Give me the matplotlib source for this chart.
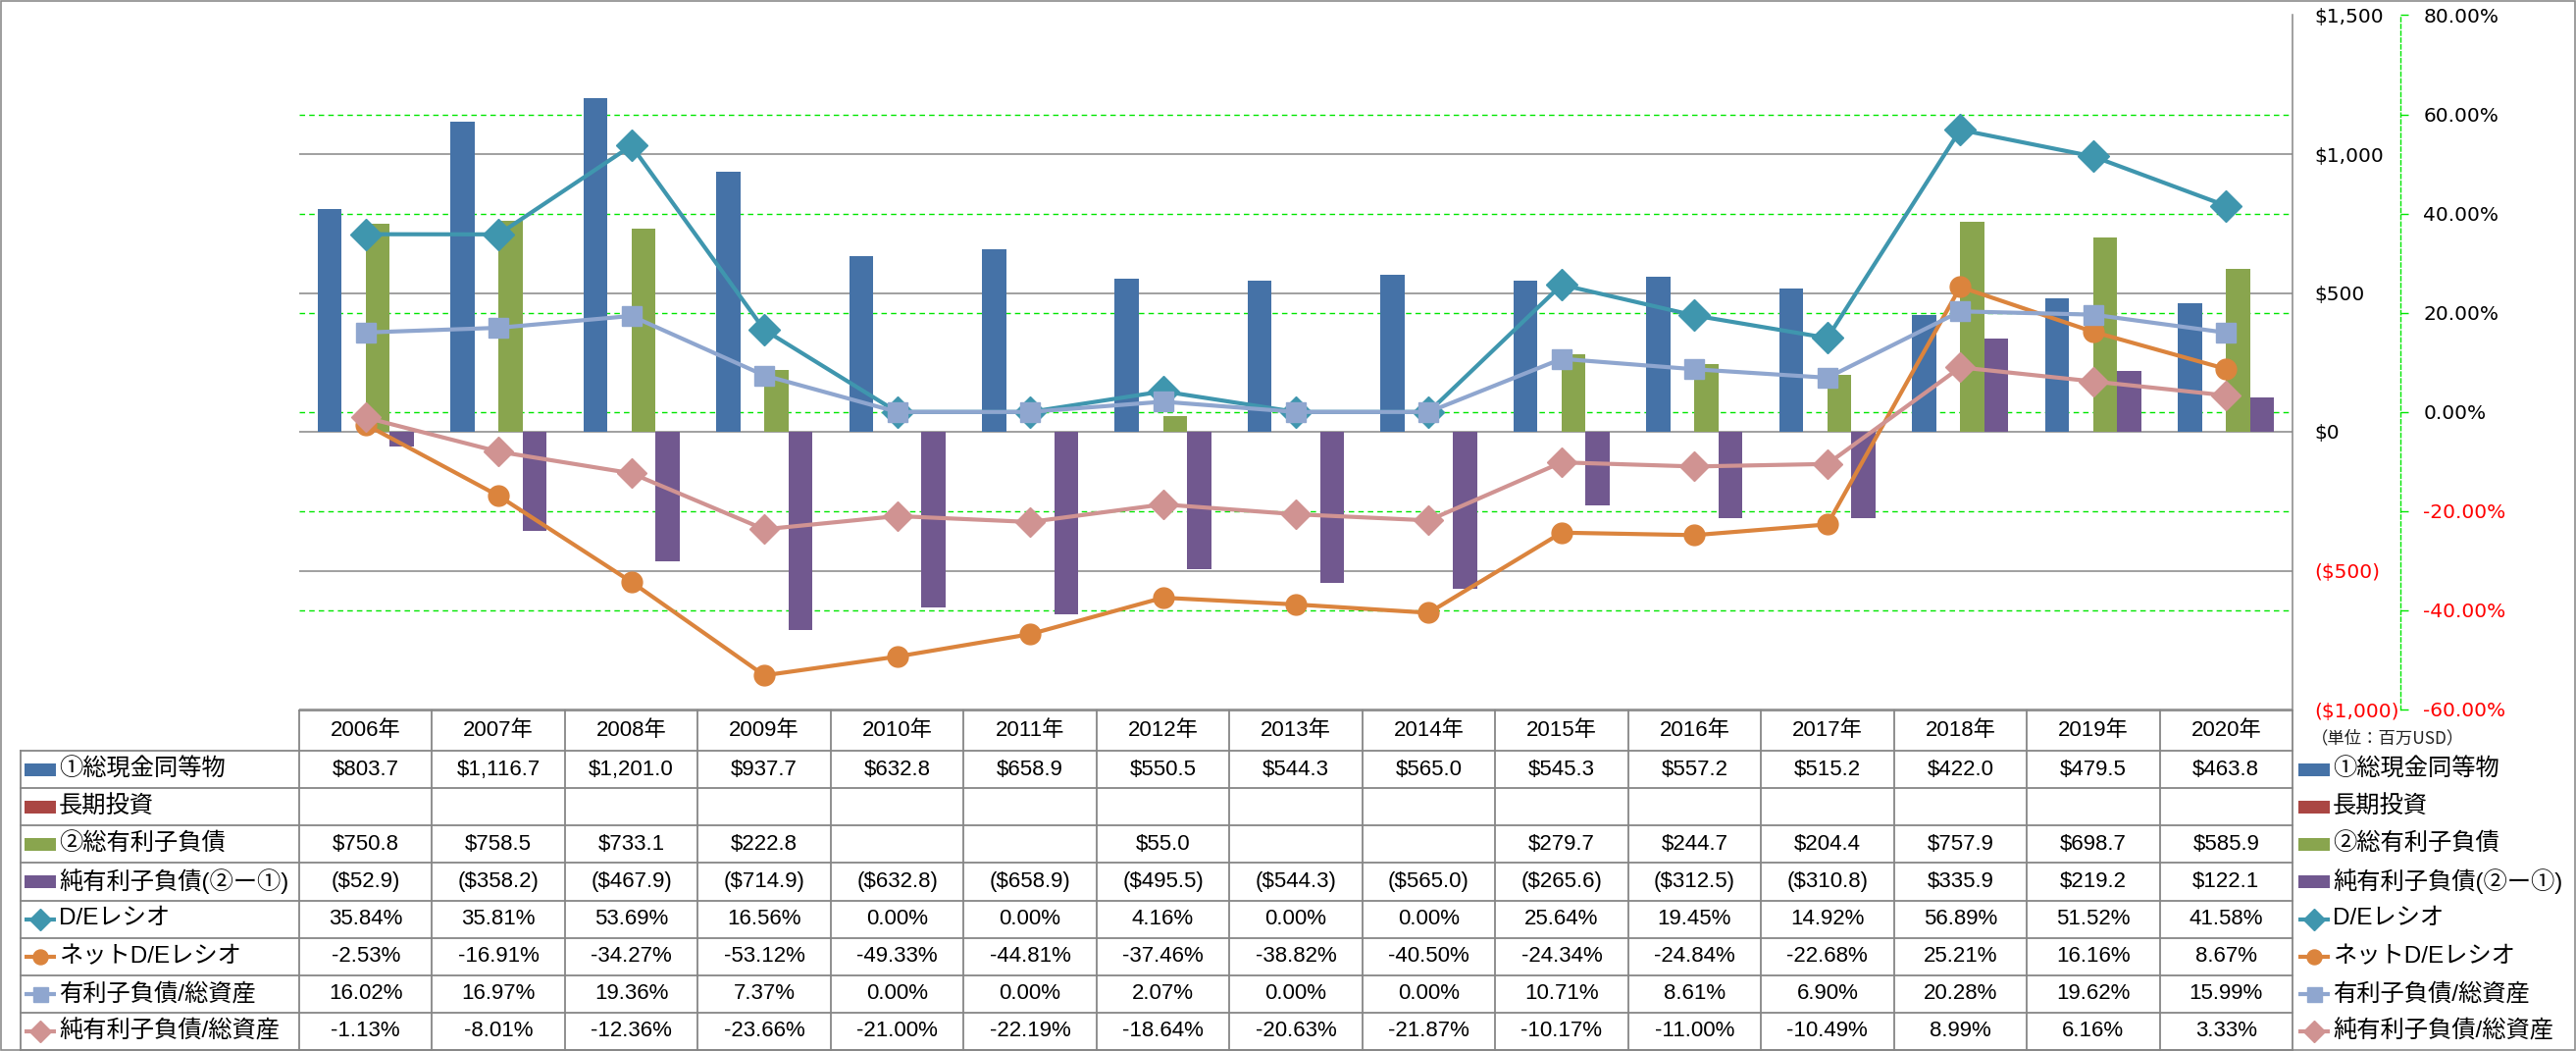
import numpy as np
import matplotlib
matplotlib.use('Agg')
import matplotlib.pyplot as plt
from matplotlib.patches import Rectangle

# ---- data (百万USD / %) ----
years = ['2006年', '2007年', '2008年', '2009年', '2010年', '2011年', '2012年', '2013年',
         '2014年', '2015年', '2016年', '2017年', '2018年', '2019年', '2020年']
cash = [803.7, 1116.7, 1201.0, 937.7, 632.8, 658.9, 550.5, 544.3, 565.0, 545.3, 557.2, 515.2, 422.0, 479.5, 463.8]
lt_invest = [None, None, None, None, None, None, None, None, None, None, None, None, None, None, None]
debt = [750.8, 758.5, 733.1, 222.8, None, None, 55.0, None, None, 279.7, 244.7, 204.4, 757.9, 698.7, 585.9]
net_debt = [-52.9, -358.2, -467.9, -714.9, -632.8, -658.9, -495.5, -544.3, -565.0, -265.6, -312.5, -310.8,
            335.9, 219.2, 122.1]
de_ratio = [35.84, 35.81, 53.69, 16.56, 0.00, 0.00, 4.16, 0.00, 0.00, 25.64, 19.45, 14.92, 56.89, 51.52, 41.58]
net_de_ratio = [-2.53, -16.91, -34.27, -53.12, -49.33, -44.81, -37.46, -38.82, -40.50, -24.34, -24.84, -22.68,
                25.21, 16.16, 8.67]
debt_assets = [16.02, 16.97, 19.36, 7.37, 0.00, 0.00, 2.07, 0.00, 0.00, 10.71, 8.61, 6.90, 20.28, 19.62, 15.99]
net_debt_assets = [-1.13, -8.01, -12.36, -23.66, -21.00, -22.19, -18.64, -20.63, -21.87, -10.17, -11.00, -10.49,
                   8.99, 6.16, 3.33]

usd_ticks = [-1000, -500, 0, 500, 1000, 1500]
pct_ticks = [-60, -40, -20, 0, 20, 40, 60, 80]

bar_series = [
    ('①総現金同等物', cash, '#4572A7'),
    ('長期投資', lt_invest, '#AA4643'),
    ('②総有利子負債', debt, '#89A54E'),
    ('純有利子負債(②ー①)', net_debt, '#71588F'),
]
line_series = [
    ('D/Eレシオ', de_ratio, '#3F96AE', 'D', 16),
    ('ネットD/Eレシオ', net_de_ratio, '#DB843D', 'o', 15),
    ('有利子負債/総資産', debt_assets, '#8FA6CF', 's', 15),
    ('純有利子負債/総資産', net_debt_assets, '#D09392', 'D', 15),
]


def arr(v):
    return np.array([np.nan if x is None else x for x in v], dtype=float)


def fmt_usd(v):
    if v is None:
        return ''
    if v < 0:
        return '(${:,.1f})'.format(-v)
    return '${:,.1f}'.format(v)


def fmt_pct(v):
    return '{:.2f}%'.format(v)


W, H = 2626, 1071
L, R, T, B = 305, 2337, 15.5, 723
GRAY = '#868686'
GREEN = '#00E600'
TFONT = ['Liberation Sans', 'Noto Sans CJK JP', 'DejaVu Sans']

fig = plt.figure(figsize=(W / 100, H / 100), dpi=100)

# full-figure layer for table and legend, pixel coordinates
tab = fig.add_axes([0, 0, 1, 1])
tab.set_xlim(0, W)
tab.set_ylim(H, 0)
tab.axis('off')

ax = fig.add_axes([L / W, (H - B) / H, (R - L) / W, (B - T) / H])
ax.set_facecolor('none')
ax2 = ax.twinx()

n = len(years)
x = np.arange(n)
bw = 0.181
for i, (name, vals, col) in enumerate(bar_series):
    ax.bar(x + (i - 1.5) * bw, arr(vals), bw, color=col, zorder=2)

ax.set_xlim(-0.5, n - 0.5)
ax.set_ylim(-1000, 1500)
ax2.set_ylim(-60, 80)

# gridlines: gray for $ axis, green dashed for % axis (behind bars)
for t in usd_ticks:
    ax.axhline(t, color=GRAY, lw=1.1, zorder=0)
for p in pct_ticks[1:-1]:
    yv = -1000 + (p + 60) / 140 * 2500
    ax.axhline(yv, color=GREEN, lw=1.0, ls=(0, (4, 3)), zorder=1)

for name, vals, col, mk, ms in line_series:
    ax2.plot(x, vals, color=col, lw=3, marker=mk, ms=ms, mec=col, mfc=col, zorder=3, clip_on=False)

# axes styling
for s in ['top', 'left', 'bottom']:
    ax.spines[s].set_visible(False)
    ax2.spines[s].set_visible(False)
ax.spines['right'].set_color(GRAY)
ax.spines['right'].set_linewidth(1.1)
ax.set_xticks([])
ax.yaxis.tick_right()
usd_labels = ['${:,.0f}'.format(t) if t >= 0 else '(${:,.0f})'.format(-t) for t in usd_ticks]
ax.set_yticks(usd_ticks, labels=usd_labels)
ax.tick_params(axis='y', length=0, pad=16, labelsize=14.5)
for t, lab in zip(usd_ticks, ax.get_yticklabels()):
    lab.set_color('red' if t < 0 else 'black')

ax2.spines['right'].set_position(('outward', 79))
ax2.spines['right'].set_color(GREEN)
ax2.spines['right'].set_linestyle((0, (3, 2)))
ax2.spines['right'].set_linewidth(1.0)
ax2.set_yticks(pct_ticks, labels=['{:.2f}%'.format(p) for p in pct_ticks])
ax2.tick_params(axis='y', length=6, width=1, color=GREEN, pad=11, labelsize=14.5)
for p, lab in zip(pct_ticks, ax2.get_yticklabels()):
    lab.set_color('red' if p < 0 else 'black')

# ---- data table ----
col_w = (R - L) / n
head_top, head_bot = 724, 765
row_h = (1070 - head_bot) / 8
tab_left = 21

rows = [(name, [fmt_usd(v) for v in vals], ('bar', col)) for name, vals, col in bar_series]
rows += [(name, [fmt_pct(v) for v in vals], ('line', col, mk, ms)) for name, vals, col, mk, ms in line_series]

lkw = dict(color=GRAY, lw=1.3)
tab.plot([L, R], [head_top, head_top], **lkw)
for k in range(9):
    yy = head_bot + k * row_h
    tab.plot([tab_left, R], [yy, yy], **lkw)
tab.plot([tab_left, tab_left], [head_bot, head_bot + 8 * row_h], **lkw)
for j in range(n + 1):
    xx = L + j * col_w
    tab.plot([xx, xx], [head_top, head_bot + 8 * row_h], **lkw)

for j, yr in enumerate(years):
    tab.text(L + (j + 0.5) * col_w, (head_top + head_bot) / 2, yr, ha='center', va='center',
             fontsize=16, family=TFONT)


def draw_key(x0, yc, style):
    if style[0] == 'bar':
        tab.add_patch(Rectangle((x0, yc - 6.5), 32, 13, color=style[1], lw=0))
    else:
        col, mk, ms = style[1], style[2], style[3]
        tab.plot([x0, x0 + 32], [yc, yc], color=col, lw=3, solid_capstyle='butt')
        tab.plot([x0 + 16], [yc], marker=mk, ms=ms * 0.72, color=col, mec=col)


for k, (name, cells, style) in enumerate(rows):
    yc = head_bot + (k + 0.5) * row_h
    draw_key(25, yc, style)
    tab.text(60, yc, name, ha='left', va='center', fontsize=17.5, family=TFONT)
    for j, c in enumerate(cells):
        tab.text(L + (j + 0.5) * col_w, yc, c, ha='center', va='center', fontsize=16, family=TFONT)
    # right-hand legend
    draw_key(2343, yc, style)
    tab.text(2378, yc, name, ha='left', va='center', fontsize=17.5, family=TFONT)

tab.text(2356, 752, '（単位：百万USD）', ha='left', va='center', fontsize=12.5,
         family=['Noto Sans CJK JP', 'DejaVu Sans'], color='#222222')

# outer frame
tab.add_patch(Rectangle((1, 1), W - 2, H - 2, fill=False, ec='#8c8c8c', lw=1.2))

fig.savefig('out.png', dpi=100)
